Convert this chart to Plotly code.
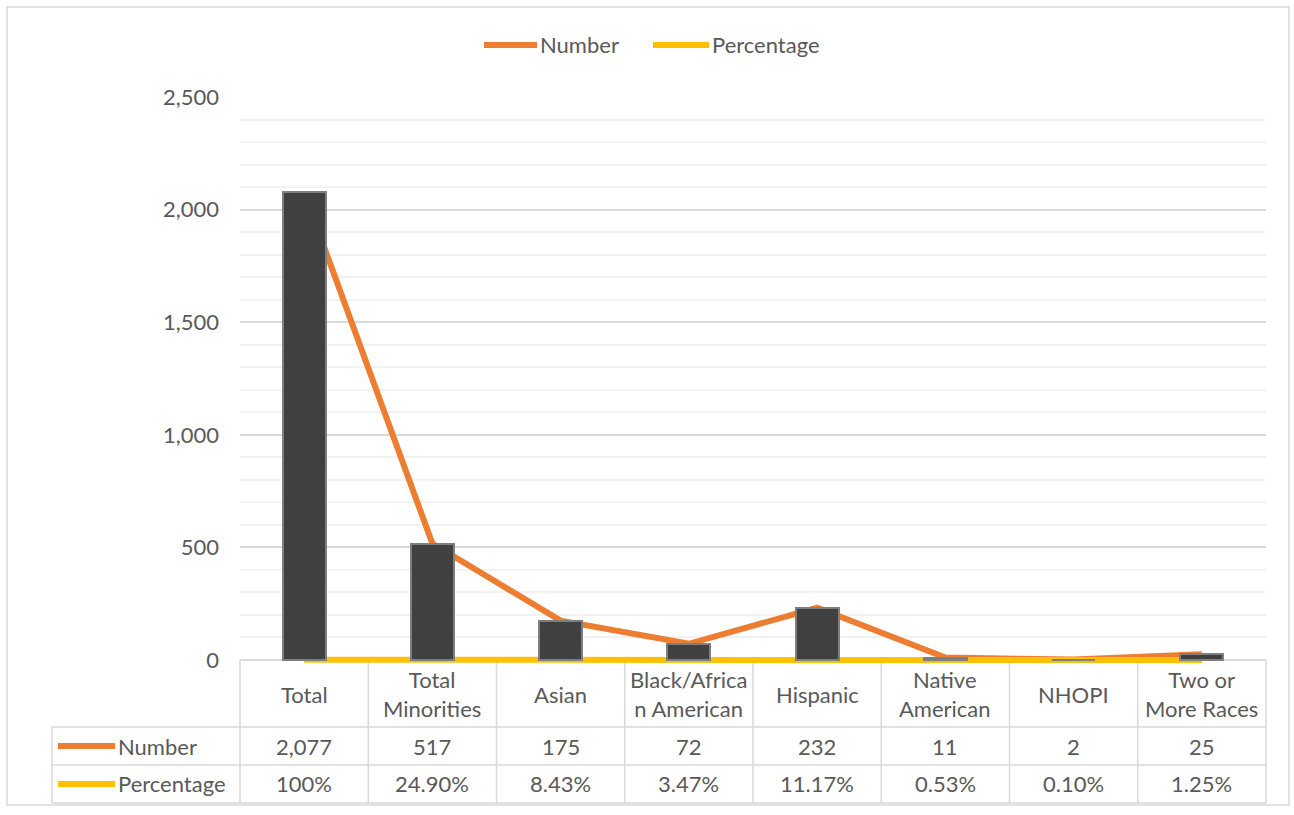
import plotly.graph_objects as go

categories = ["Total", "Total<br>Minorities", "Asian", "Black/Africa<br>n American",
              "Hispanic", "Native<br>American", "NHOPI", "Two or<br>More Races"]
numbers = [2077, 517, 175, 72, 232, 11, 2, 25]
percentages = [1.0, 0.249, 0.0843, 0.0347, 0.1117, 0.0053, 0.0010, 0.0125]
y_ticks = [0, 500, 1000, 1500, 2000, 2500]

ORANGE = "#ED7D31"
YELLOW = "#FFC000"
TXT = "#595959"
GRID = "#D9D9D9"
FONT = "Lato"

W, H = 1294, 815
L, R, T = 240, 1266, 97
ZERO = 660                      # pixel row of value 0
SCALE = (ZERO - T) / 2500.0     # px per unit
B = 665                         # plot-area bottom (a little below 0 so the 0-line isn't clipped)
YMIN = -(B - ZERO) / SCALE


def px(p):
    return (p - L) / (R - L)


def py(p):
    return (B - p) / (B - T)


n = len(categories)
xs = list(range(n))

fig = go.Figure()

fig.add_trace(go.Scatter(x=xs, y=numbers, mode="lines", name="Number",
                         line=dict(color=ORANGE, width=6), showlegend=False,
                         yaxis="y", xaxis="x"))
fig.add_trace(go.Scatter(x=xs, y=percentages, mode="lines", name="Percentage",
                         line=dict(color=YELLOW, width=6), showlegend=False,
                         yaxis="y", xaxis="x"))
# up/down bars between the two series
fig.add_trace(go.Bar(x=xs, y=[a - b for a, b in zip(numbers, percentages)],
                     base=percentages, width=0.335,
                     marker=dict(color="#404040", line=dict(color="#7F7F7F", width=2)),
                     showlegend=False, xaxis="x", yaxis="y2"))

shapes = []
annotations = []

# outer chart border
shapes.append(dict(type="rect", xref="paper", yref="paper",
                   x0=px(7), x1=px(1289), y0=py(805), y1=py(7),
                   line=dict(color=GRID, width=1.5), fillcolor="rgba(0,0,0,0)", layer="below"))

# data table lines
col_w = (R - L) / n
for k in range(n + 1):
    xp = L + k * col_w
    shapes.append(dict(type="line", xref="paper", yref="paper",
                       x0=px(xp), x1=px(xp), y0=py(ZERO), y1=py(803),
                       line=dict(color=GRID, width=1.5), layer="below"))
shapes.append(dict(type="line", xref="paper", yref="paper",
                   x0=px(52), x1=px(52), y0=py(727), y1=py(803),
                   line=dict(color=GRID, width=1.5), layer="below"))
shapes.append(dict(type="line", xref="paper", yref="paper",
                   x0=px(L), x1=px(R), y0=py(ZERO), y1=py(ZERO),
                   line=dict(color=GRID, width=1.5), layer="below"))
for yy in (727, 765, 803):
    shapes.append(dict(type="line", xref="paper", yref="paper",
                       x0=px(52), x1=px(R), y0=py(yy), y1=py(yy),
                       line=dict(color=GRID, width=1.5), layer="below"))

fs = 22
for i, c in enumerate(categories):
    annotations.append(dict(x=i, y=py(694), xref="x", yref="paper", text=c,
                            showarrow=False, font=dict(family=FONT, size=fs, color=TXT),
                            xanchor="center", yanchor="middle"))
    annotations.append(dict(x=i, y=py(746), xref="x", yref="paper", text=f"{numbers[i]:,}",
                            showarrow=False, font=dict(family=FONT, size=fs, color=TXT),
                            xanchor="center", yanchor="middle"))
    pv = percentages[i]
    ptxt = "100%" if pv == 1.0 else f"{pv:.2%}"
    annotations.append(dict(x=i, y=py(784), xref="x", yref="paper", text=ptxt,
                            showarrow=False, font=dict(family=FONT, size=fs, color=TXT),
                            xanchor="center", yanchor="middle"))

# legend keys in table
for (name, color, yy) in (("Number", ORANGE, 746), ("Percentage", YELLOW, 784)):
    shapes.append(dict(type="line", xref="paper", yref="paper",
                       x0=px(58), x1=px(115), y0=py(yy), y1=py(yy),
                       line=dict(color=color, width=6)))
    annotations.append(dict(x=px(116), y=py(yy), xref="paper", yref="paper", text=name,
                            showarrow=False, font=dict(family=FONT, size=fs, color=TXT),
                            xanchor="left", yanchor="middle"))

# top legend
for (name, color, x0, x1, xt) in (("Number", ORANGE, 484, 537, 538),
                                   ("Percentage", YELLOW, 653, 709, 710)):
    shapes.append(dict(type="line", xref="paper", yref="paper",
                       x0=px(x0), x1=px(x1), y0=py(45), y1=py(45),
                       line=dict(color=color, width=6)))
    annotations.append(dict(x=px(xt), y=py(45), xref="paper", yref="paper", text=name,
                            showarrow=False, font=dict(family=FONT, size=fs, color=TXT),
                            xanchor="left", yanchor="middle"))

fig.update_layout(
    width=W, height=H,
    margin=dict(l=L, r=W - R, t=T, b=H - B, pad=0),
    paper_bgcolor="white", plot_bgcolor="white",
    showlegend=False,
    bargap=0,
    xaxis=dict(range=[-0.5, n - 0.5], showgrid=False, zeroline=False,
               showticklabels=False, ticks="", showline=False),
    yaxis=dict(range=[YMIN, 2500], tickvals=y_ticks, tickformat=",",
               showgrid=True, gridcolor=GRID, gridwidth=1.5, zeroline=False,
               showline=False, ticks="", ticklabelstandoff=20,
               tickfont=dict(family=FONT, size=fs, color=TXT),
               minor=dict(tick0=0, dtick=100, showgrid=True, gridcolor="#F2F2F2", gridwidth=1.5)),
    yaxis2=dict(range=[YMIN, 2500], overlaying="y", visible=False),
    shapes=shapes,
    annotations=annotations,
)

fig.write_html("out.html", config={"displayModeBar": False},
               post_script="document.body.style.margin='0';")
